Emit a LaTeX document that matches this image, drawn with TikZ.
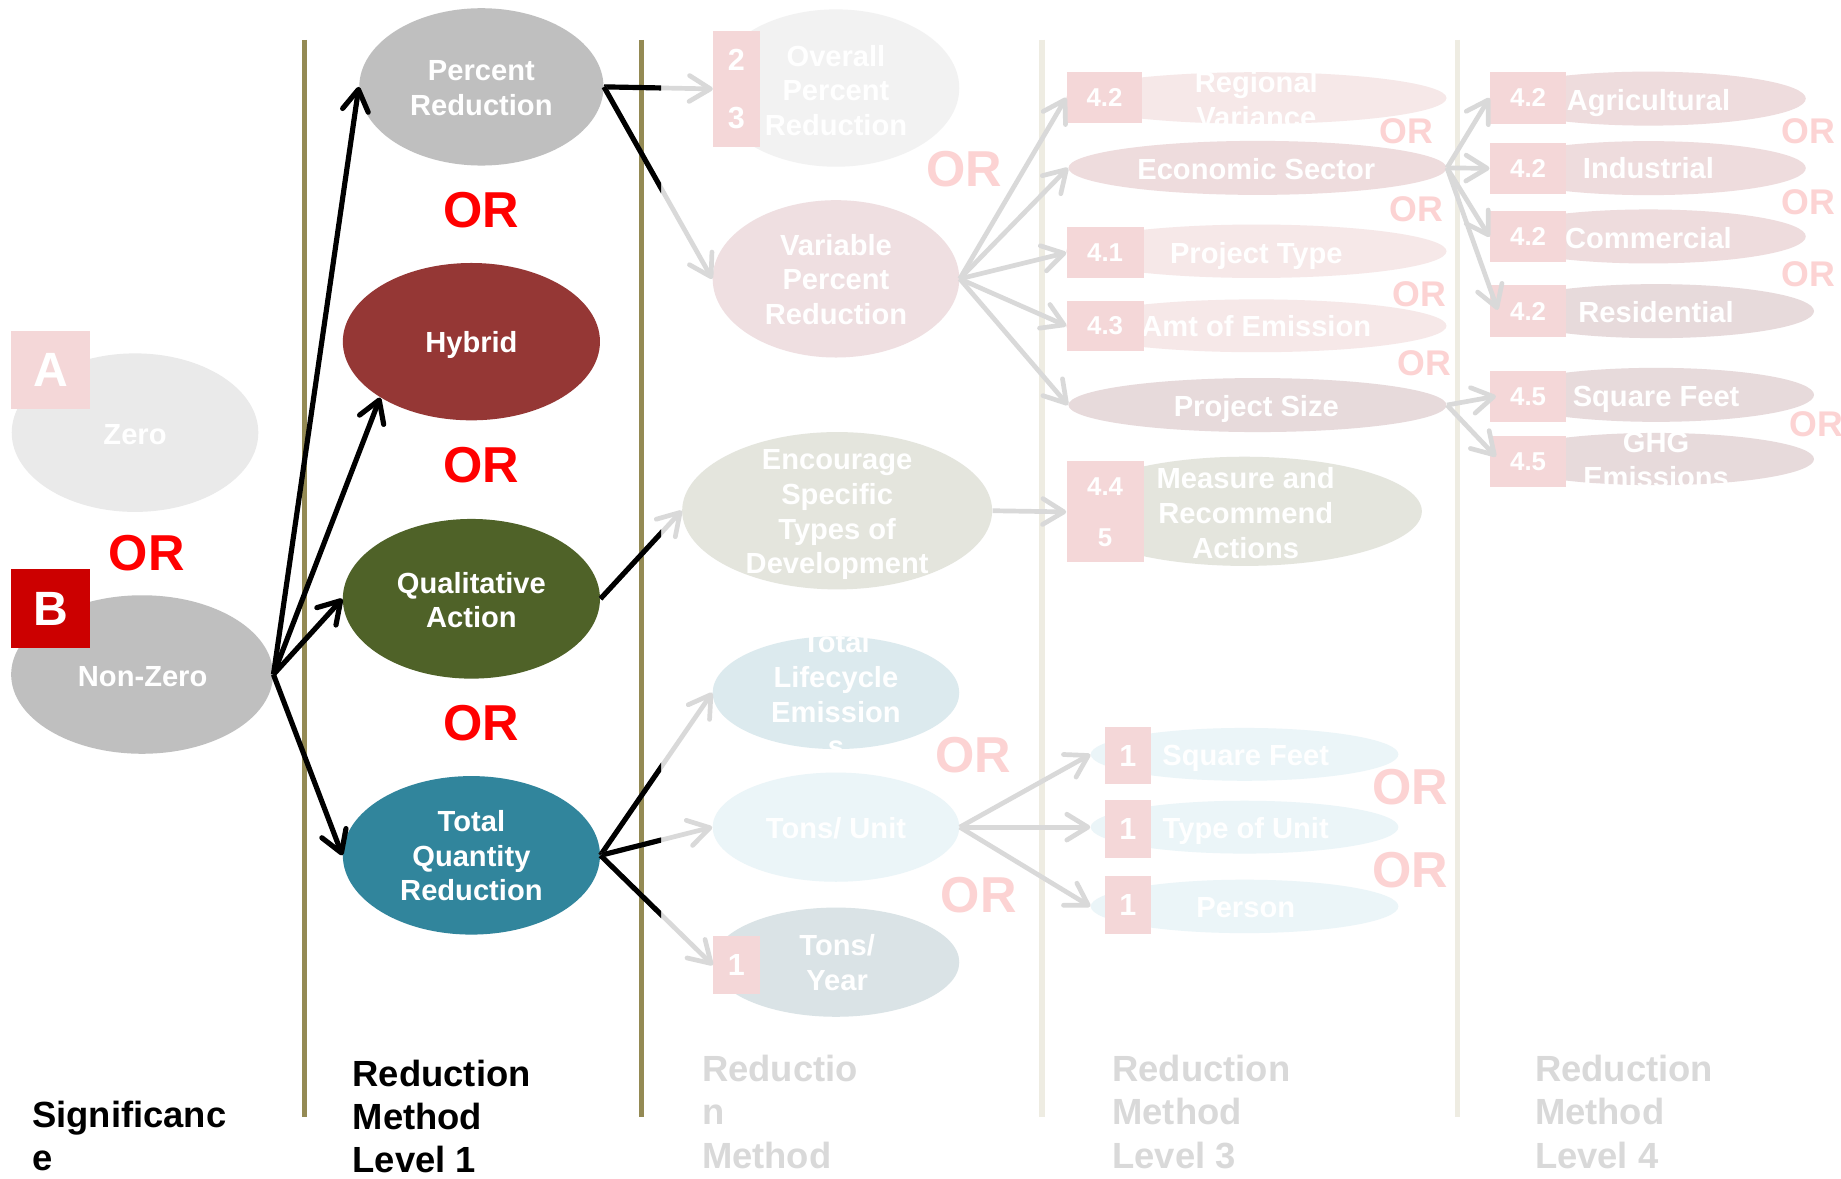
\documentclass[tikz,border=0pt]{standalone}
\usepackage{fontspec}
\setmainfont{Liberation Sans}
\usetikzlibrary{shapes.geometric,arrows.meta}
\definecolor{olivel}{HTML}{948A54}
\definecolor{lightline}{HTML}{EEECE2}
\definecolor{gr}{HTML}{BFBFBF}
\definecolor{hyb}{HTML}{953735}
\definecolor{qual}{HTML}{4F6228}
\definecolor{tqr}{HTML}{31859C}
\definecolor{bred}{HTML}{CC0000}
\definecolor{orred}{HTML}{FF0000}
\definecolor{orpink}{HTML}{FCD3D3}
\definecolor{pinkbox}{HTML}{F4D7D8}
\definecolor{zerofill}{HTML}{EAEAEA}
\definecolor{oprfill}{HTML}{F2F2F2}
\definecolor{vprfill}{HTML}{EFDFE1}
\definecolor{encfill}{HTML}{E4E5DD}
\definecolor{tlefill}{HTML}{DCEAEE}
\definecolor{tufill}{HTML}{EBF5F8}
\definecolor{tyfill}{HTML}{DAE3E6}
\definecolor{lpink}{HTML}{F6E8E8}
\definecolor{mpink}{HTML}{EEDCDD}
\definecolor{dpink}{HTML}{E7DADB}
\definecolor{arrgrey}{HTML}{D9D9D9}
\definecolor{labgrey}{HTML}{D9D9D9}
\begin{document}
\begin{tikzpicture}[x=0.5pt, y=-0.5pt,
  ell/.style={ellipse, inner sep=0pt, draw=none, fill=#1},
  txt/.style={text=white, font=\bfseries\fontsize{12.4}{14.75}\selectfont, align=center, inner sep=0pt},
  one/.style={text height=8.9pt, text depth=0pt},
  nbox/.style={rectangle, inner sep=0pt, fill=pinkbox, text=white, align=center},
  numS/.style={font=\bfseries\fontsize{11}{21.75}\selectfont},
  numL/.style={font=\bfseries\fontsize{13}{24.5}\selectfont},
  orbig/.style={font=\bfseries\fontsize{21.5}{24}\selectfont, inner sep=0pt},
  orsmall/.style={font=\bfseries\fontsize{15.2}{18}\selectfont, inner sep=0pt, text=orpink},
  lab/.style={font=\bfseries\fontsize{15.5}{18.5}\selectfont, align=left, inner sep=0pt, anchor=base west},
  blk/.style={line width=2.2pt, black, -{Straight Barb[length=9pt,width=11pt,round]}},
  gry/.style={line width=2pt, arrgrey, -{Straight Barb[length=9pt,width=11pt,round]}},
  blkseg/.style={line width=2.2pt, black},
  vline/.style={line width=2.2pt}
]
\fill[white] (0,0) rectangle (1568,1004);
\useasboundingbox (0,0) rectangle (1568,1004);

% column lines
\draw[vline, olivel] (259.5,34) -- (259.5,951);
\draw[vline, olivel] (546.5,34) -- (546.5,951);
\draw[vline, lightline] (887.5,34) -- (887.5,951);
\draw[vline, lightline] (1241,34) -- (1241,951);

% ---------- Significance ----------
\node[ell=zerofill, minimum width=105pt, minimum height=67.5pt] (zero) at (115,368.5) {};
\node[txt, one] (zerot) at (115,369.5) {Zero};
\node[nbox, minimum width=33.75pt, minimum height=33pt, font=\bfseries\fontsize{20.5}{24}\selectfont] (abox) at (43.25,315) {A};
\node[orbig, text=orred] (or0) at (125,471.5) {OR};
\node[ell=gr, minimum width=111.5pt, minimum height=67.5pt] (nz) at (121,574.5) {};
\node[txt, one] (nzt) at (121.5,576) {Non-Zero};
\node[nbox, fill=bred, minimum width=33.75pt, minimum height=33.5pt, font=\bfseries\fontsize{20.5}{24}\selectfont] (bbox) at (43.25,518.5) {B};

% ---------- Level 1 ----------
\node[ell=gr, minimum width=104pt, minimum height=67pt] (pr) at (410,74) {};
\node[txt] (prt) at (410,75) {Percent\\Reduction};
\node[orbig, text=orred] (or1) at (410,179) {OR};
\node[ell=hyb, minimum width=109.5pt, minimum height=67pt] (hy) at (401.5,291) {};
\node[txt, one] (hyt) at (401.5,291) {Hybrid};
\node[orbig, text=orred] (or2) at (410,396) {OR};
\node[ell=qual, minimum width=109.5pt, minimum height=68pt] (qa) at (401.5,510) {};
\node[txt] (qat) at (401.5,511) {Qualitative\\Action};
\node[orbig, text=orred] (or3) at (410,615.5) {OR};
\node[ell=tqr, minimum width=109.5pt, minimum height=67.5pt] (tq) at (401.5,728.5) {};
\node[txt] (tqt) at (401.5,729) {Total\\Quantity\\Reduction};

% ---------- Level 2 ----------
\node[ell=oprfill, minimum width=105pt, minimum height=67pt] (opr) at (712,75) {};
\node[txt] (oprt) at (712,77) {Overall\\Percent\\Reduction};
\node[nbox, numL, minimum width=19.75pt, minimum height=49.25pt] (opb) at (627.25,75.75) {2\\3};
\node[ell=vprfill, minimum width=105pt, minimum height=67pt] (vpr) at (712,237.5) {};
\node[txt] (vprt) at (712,238) {Variable\\Percent\\Reduction};
\node[orbig, text=orpink] (or4) at (821.5,144) {OR};
\node[ell=encfill, minimum width=132pt, minimum height=67pt] (enc) at (713,435) {};
\node[txt] (enct) at (713,438.5) {Encourage\\Specific\\Types of\\Development};
\node[ell=tlefill, minimum width=105pt, minimum height=48pt] (tle) at (712,590) {};
\begin{scope}
  \clip (607,542) rectangle (817,638);
  \node[txt] (tlet) at (712,591.5) {Total\\Lifecycle\\Emission\\s};
\end{scope}
\node[orbig, text=orpink] (or5) at (829,643) {OR};
\node[ell=tufill, minimum width=105pt, minimum height=46.5pt] (tu) at (712,704.5) {};
\node[txt, one] (tut) at (712,705.5) {Tons/ Unit};
\node[orbig, text=orpink] (or6) at (833.5,762) {OR};
\node[ell=tyfill, minimum width=105pt, minimum height=46.5pt] (ty) at (712,819.5) {};
\node[txt] (tyt) at (713,820) {Tons/\\Year};
\node[nbox, numL, minimum width=19.75pt, minimum height=25pt] (tyb) at (627.25,822) {1};

% ---------- Level 3 ----------
\node[ell=lpink, minimum width=162pt, minimum height=22pt] (rv) at (1070,83.5) {};
\begin{scope}
  \clip (908,61.5) rectangle (1232,105.5);
  \node[txt] (rvt) at (1070,85) {Regional\\Variance};
\end{scope}
\node[nbox, numS, minimum width=32.25pt, minimum height=21.75pt] (rvb) at (940.75,83.25) {4.2};
\node[orsmall] (or7) at (1198,112) {OR};
\node[ell=mpink, minimum width=161pt, minimum height=23pt] (es) at (1071,143) {};
\node[txt, one] (est) at (1070,144) {Economic Sector};
\node[orsmall] (or8) at (1206.5,178) {OR};
\node[ell=lpink, minimum width=162pt, minimum height=22.75pt] (pt) at (1070,214) {};
\node[txt, one] (ptt) at (1070,215.5) {Project Type};
\node[nbox, numS, minimum width=32.75pt, minimum height=21.75pt] (ptb) at (941.25,215.25) {4.1};
\node[orsmall] (or9) at (1209,251) {OR};
\node[ell=lpink, minimum width=162pt, minimum height=22.5pt] (ae) at (1070,277.5) {};
\node[txt, one] (aet) at (1070,278) {Amt of Emission};
\node[nbox, numS, minimum width=32.75pt, minimum height=21.5pt] (aeb) at (941.25,277.5) {4.3};
\node[orsmall] (or10) at (1213,309) {OR};
\node[ell=dpink, minimum width=161pt, minimum height=23pt] (ps) at (1071,345) {};
\node[txt, one] (pst) at (1070,346) {Project Size};
\node[ell=encfill, minimum width=151pt, minimum height=46.5pt] (mra) at (1060,435.5) {};
\node[txt] (mrat) at (1061,437) {Measure and\\Recommend\\Actions};
\node[nbox, numS, minimum width=32.75pt, minimum height=43pt] (mrab) at (941.25,436) {4.4\\5};

\node[ell=tufill, minimum width=131pt, minimum height=22.5pt] (sf) at (1060,642.5) {};
\node[txt, one] (sft) at (1061,643) {Square Feet};
\node[nbox, numL, minimum width=19.5pt, minimum height=24.5pt] (sfb) at (960.5,643.5) {1};
\node[orbig, text=orpink] (or11) at (1201,670) {OR};
\node[ell=tufill, minimum width=131pt, minimum height=22.5pt] (tou) at (1060,704.5) {};
\node[txt, one] (tout) at (1061,705.5) {Type of Unit};
\node[nbox, numL, minimum width=19.5pt, minimum height=25pt] (toub) at (960.5,706) {1};
\node[orbig, text=orpink] (or12) at (1201,741.5) {OR};
\node[ell=tufill, minimum width=131pt, minimum height=22.75pt] (pe) at (1060,772) {};
\node[txt, one] (pet) at (1061,772.5) {Person};
\node[nbox, numL, minimum width=19.5pt, minimum height=24.75pt] (peb) at (960.5,771) {1};

% ---------- Level 4 ----------
\node[ell=mpink, minimum width=134pt, minimum height=23pt] (ag) at (1404,84) {};
\node[txt, one] (agt) at (1404,85.5) {Agricultural};
\node[nbox, numS, minimum width=32.5pt, minimum height=21.85pt] (agb) at (1301.5,83.4) {4.2};
\node[orsmall] (or13) at (1540,112) {OR};
\node[ell=mpink, minimum width=134pt, minimum height=23pt] (ind) at (1404,143.2) {};
\node[txt, one] (indt) at (1404,143) {Industrial};
\node[nbox, numS, minimum width=32.5pt, minimum height=21.85pt] (indb) at (1301.5,143.4) {4.2};
\node[orsmall] (or14) at (1540,172) {OR};
\node[ell=mpink, minimum width=134pt, minimum height=23pt] (com) at (1404,201.4) {};
\node[txt, one] (comt) at (1404,202.5) {Commercial};
\node[nbox, numS, minimum width=32.5pt, minimum height=21.85pt] (comb) at (1301.5,201.7) {4.2};
\node[orsmall] (or15) at (1540,233.5) {OR};
\node[ell=dpink, minimum width=134.5pt, minimum height=23pt] (res) at (1410.5,265) {};
\node[txt, one] (rest) at (1410.5,265.7) {Residential};
\node[nbox, numS, minimum width=32.5pt, minimum height=21.85pt] (resb) at (1301.5,264.9) {4.2};
\node[ell=dpink, minimum width=134.5pt, minimum height=23pt] (sq) at (1410.5,336.3) {};
\node[txt, one] (sqt) at (1410.5,337) {Square Feet};
\node[nbox, numS, minimum width=32.5pt, minimum height=21.55pt] (sqb) at (1301.5,337.5) {4.5};
\node[orsmall] (or16) at (1547,361.5) {OR};
\node[ell=dpink, minimum width=134.5pt, minimum height=22.25pt] (ghg) at (1410.5,391) {};
\begin{scope}
  \clip (1276,368.7) rectangle (1545,413.5);
  \node[txt] (ghgt) at (1410.5,392) {GHG\\Emissions};
\end{scope}
\node[nbox, numS, minimum width=32.5pt, minimum height=21.85pt] (ghgb) at (1301.5,392.9) {4.5};

% ---------- bottom labels (base = last line) ----------
\node[lab, text=black] (labS) at (27,997) {Significanc\\e};
\node[lab, text=black] (lab1) at (300,999) {Reduction\\Method\\Level 1};
\node[lab, text=labgrey] (lab2) at (597.5,995) {Reductio\\n\\Method};
\node[lab, text=labgrey] (lab3) at (947,995) {Reduction\\Method\\Level 3};
\node[lab, text=labgrey] (lab4) at (1307,995) {Reduction\\Method\\Level 4};

% ---------- connectors ----------
\draw[blk] (nz.east) -- (pr.west);
\draw[blk] (nz.east) -- (hy.south west);
\draw[blk] (nz.east) -- (qa.west);
\draw[blk] (nz.east) -- (tq.west);

\foreach \a/\b in {pr.east/opb.west, pr.east/vpr.west, qa.east/enc.west, tq.east/tle.west, tq.east/tu.west, tq.east/tyb.west} {
  \draw[gry] (\a) -- (\b);
  \begin{scope}
    \clip (0,0) rectangle (563,1004);
    \draw[blkseg] (\a) -- (\b);
  \end{scope}
}

\foreach \t in {rvb.west, es.west, ptb.west, aeb.west, ps.west} {
  \draw[gry] (vpr.east) -- (\t);
}
\draw[gry] (enc.east) -- (mrab.west);
\foreach \t in {sf.west, tou.west, pe.west} {
  \draw[gry] (tu.east) -- (\t);
}

\draw[gry] (es.east) -- (agb.west);
\draw[gry] (es.east) -- (indb.west);
\draw[gry] (es.east) -- (comb.west);
\draw[gry] (es.east) -- ([xshift=3.5pt,yshift=0.5pt]resb.west);
\draw[gry] (ps.east) -- ([xshift=2.75pt]sqb.west);
\draw[gry] (ps.east) -- ([xshift=2.75pt,yshift=2pt]ghgb.west);
\end{tikzpicture}
\end{document}
